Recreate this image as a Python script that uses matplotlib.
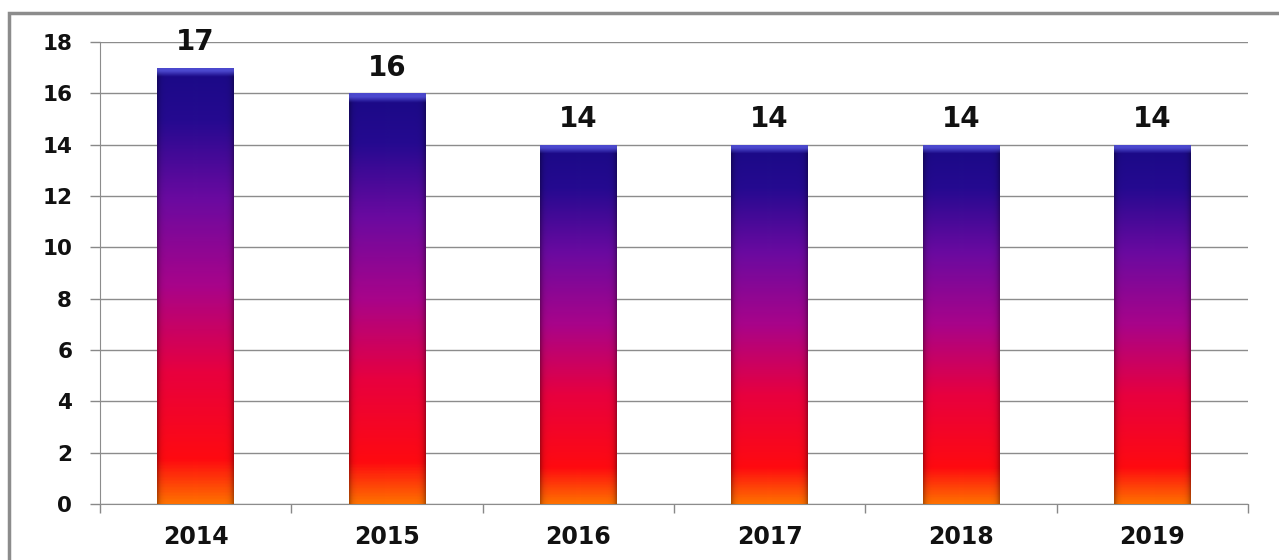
import matplotlib
matplotlib.use("Agg")
import matplotlib.pyplot as plt
import numpy as np
from matplotlib.colors import LinearSegmentedColormap, to_rgb
from matplotlib.patches import Rectangle

years = ['2014', '2015', '2016', '2017', '2018', '2019']
counts = [17, 16, 14, 14, 14, 14]

# gradient from bottom (orange) to top (dark blue)
grad = LinearSegmentedColormap.from_list('bar', [
    (0.00, '#ff7000'),
    (0.10, '#ff0a10'),
    (0.30, '#e8003e'),
    (0.50, '#a8048a'),
    (0.70, '#6a0aa0'),
    (0.88, '#250a90'),
    (1.00, '#1a0a86'),
])

fig = plt.figure(figsize=(12.79, 5.6), dpi=100)
W, H = 1279, 560
ax = fig.add_axes([100 / W, (H - 504) / H, (1248 - 100) / W, (504 - 42) / H])

# outer frame
fig.patches.append(Rectangle((9 / W, -0.1), 1.2, (H - 13) / H + 0.1, transform=fig.transFigure,
                             fill=False, edgecolor='#8c8c8c', linewidth=2.5))

x = np.arange(len(years))
bw = 0.4
bars = ax.bar(x, counts, width=bw, color='none', edgecolor='none', zorder=3)

ymax = 18
px_per_unit = (504 - 42) / ymax
for b, v in zip(bars, counts):
    n = 400
    t = np.linspace(0, 1, n)[:, None]  # bottom -> top
    rgb = grad(t[:, 0])[:, :3]
    img = np.repeat(rgb[:, None, :], 60, axis=1)
    # darker edges at the sides
    u = np.linspace(-1, 1, 60)
    shade = 1 - 0.3 * np.abs(u) ** 14
    img = img * shade[None, :, None]
    # light top cap
    cap = 9 / (v * px_per_unit)
    capc = np.array(to_rgb('#5858e0'))
    for i in range(n):
        if t[i, 0] > 1 - cap:
            a = min(1.0, (t[i, 0] - (1 - cap)) / cap * 1.6)
            img[i] = img[i] * (1 - 0.8 * a) + capc * 0.8 * a
    x0 = b.get_x()
    im = ax.imshow(img, extent=[x0, x0 + bw, 0, v], origin='lower', aspect='auto', zorder=3,
                   interpolation='bilinear')
    im.set_clip_path(b)
    ax.text(b.get_x() + bw / 2, v + 0.45, str(v), ha='center', va='bottom',
            fontsize=20, fontweight='bold', color='#111111', zorder=4)

ax.set_xlim(-0.5, len(years) - 0.5)
ax.set_ylim(0, ymax)
ax.set_yticks(range(0, 19, 2))
ax.set_xticks(x)
ax.set_xticklabels(years)
ax.set_xticks(np.arange(-0.5, len(years), 1), minor=True)
ax.tick_params(axis='x', which='major', length=0, pad=15, labelsize=17)
ax.tick_params(axis='x', which='minor', length=6.5, color='#888888', width=1, direction='out')
ax.tick_params(axis='y', length=7, color='#888888', width=1, labelsize=15.5, pad=13)
for lab in ax.get_xticklabels() + ax.get_yticklabels():
    lab.set_fontweight('bold')
    lab.set_color('#111111')
ax.grid(axis='y', color='#8c8c8c', linewidth=1, zorder=0)
ax.set_axisbelow(True)
for s in ['top', 'right']:
    ax.spines[s].set_visible(False)
for s in ['left', 'bottom']:
    ax.spines[s].set_color('#8c8c8c')

fig.savefig('out.png', dpi=100)
